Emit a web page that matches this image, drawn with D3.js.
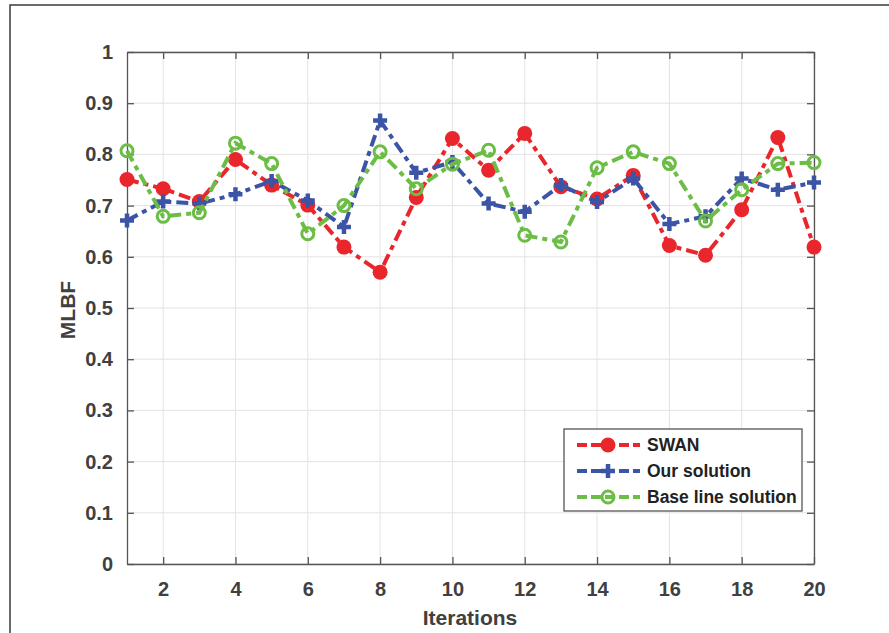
<!DOCTYPE html>
<html>
<head>
<meta charset="utf-8">
<script src="https://cdn.jsdelivr.net/npm/d3@7"></script>
<style>
  body { margin: 0; background: #fff; }
  text { font-family: "Liberation Sans", Arial, sans-serif; font-weight: bold; fill: #404040; }
</style>
</head>
<body>
<svg width="889" height="633"></svg>
<script>
var svg = d3.select("svg"),
    width = +svg.attr("width"),
    height = +svg.attr("height");

// data
var iterations = d3.range(1, 21);
var swan = [0.751, 0.733, 0.708, 0.790, 0.740, 0.701, 0.619, 0.570, 0.716, 0.831,
            0.769, 0.841, 0.737, 0.713, 0.759, 0.622, 0.603, 0.692, 0.833, 0.619];
var ours = [0.671, 0.708, 0.704, 0.722, 0.748, 0.710, 0.658, 0.866, 0.764, 0.785,
            0.704, 0.688, 0.740, 0.707, 0.753, 0.664, 0.679, 0.753, 0.731, 0.745];
var baseline = [0.807, 0.679, 0.686, 0.822, 0.782, 0.645, 0.700, 0.805, 0.733, 0.781,
                0.808, 0.642, 0.629, 0.774, 0.805, 0.782, 0.670, 0.731, 0.782, 0.784];
var xTicks = [2, 4, 6, 8, 10, 12, 14, 16, 18, 20];
var yTicks = d3.range(0, 11).map(d => d / 10);

var series = [
  { name: 'SWAN', values: swan, color: '#e8262b', marker: 'dot' },
  { name: 'Our solution', values: ours, color: '#3b54a5', marker: 'plus' },
  { name: 'Base line solution', values: baseline, color: '#6cbd45', marker: 'ring' }
];

var m = { left: 127, right: 814, top: 52, bottom: 564 };

var x = d3.scaleLinear().domain([1, 20]).range([m.left, m.right]);
var y = d3.scaleLinear().domain([0, 1]).range([m.bottom, m.top]);

// outer frame (top and left edges only)
svg.append("path")
  .attr("d", "M10," + height + "V5H" + width)
  .attr("fill", "none").attr("stroke", "#3a3a3a").attr("stroke-width", 1.5);

// grid
var grid = svg.append("g").attr("stroke", "#e3e3e3").attr("stroke-width", 1);
grid.selectAll(".gx").data(xTicks).enter().append("line")
  .attr("x1", d => x(d)).attr("x2", d => x(d))
  .attr("y1", m.top).attr("y2", m.bottom);
grid.selectAll(".gy").data(yTicks).enter().append("line")
  .attr("x1", m.left).attr("x2", m.right)
  .attr("y1", d => y(d)).attr("y2", d => y(d));

// axes
var axisColor = "#555";
function styleAxis(g) {
  g.selectAll("path.domain").attr("stroke", axisColor).attr("stroke-width", 1.3);
  g.selectAll(".tick line").attr("stroke", axisColor).attr("stroke-width", 1.3);
  g.selectAll(".tick text").attr("fill", "#404040")
    .style("font-size", "20px").style("font-weight", "bold")
    .style("font-family", '"Liberation Sans", Arial, sans-serif');
}

svg.append("g").attr("transform", "translate(0," + m.bottom + ")")
  .call(d3.axisBottom(x).tickValues(xTicks).tickSizeInner(-7).tickSizeOuter(0).tickPadding(18).tickFormat(d3.format("d")))
  .call(styleAxis);
svg.append("g").attr("transform", "translate(0," + m.top + ")")
  .call(d3.axisTop(x).tickValues(xTicks).tickSizeInner(-7).tickSizeOuter(0).tickFormat(""))
  .call(styleAxis);
svg.append("g").attr("transform", "translate(" + m.left + ",0)")
  .call(d3.axisLeft(y).tickValues(yTicks).tickSizeInner(-7).tickSizeOuter(0).tickPadding(14).tickFormat(d => d3.format("")(+d.toFixed(1))))
  .call(styleAxis);
svg.append("g").attr("transform", "translate(" + m.right + ",0)")
  .call(d3.axisRight(y).tickValues(yTicks).tickSizeInner(-7).tickSizeOuter(0).tickFormat(""))
  .call(styleAxis);

// axis labels
svg.append("text").attr("x", 470).attr("y", 625)
  .attr("text-anchor", "middle").style("font-size", "21px").text("Iterations");
svg.append("text").attr("transform", "translate(75,310) rotate(-90)")
  .attr("text-anchor", "middle").style("font-size", "21px").text("MLBF");

// markers
function drawMarker(g, s, cx, cy) {
  if (s.marker == 'dot') {
    g.append("circle").attr("cx", cx).attr("cy", cy).attr("r", 7.5)
      .attr("fill", s.color);
  } else if (s.marker == 'plus') {
    g.append("path").attr("d", "M" + (cx - 7) + "," + cy + "H" + (cx + 7) + "M" + cx + "," + (cy - 7) + "V" + (cy + 7))
      .attr("stroke", s.color).attr("stroke-width", 4.5).attr("fill", "none");
  } else {
    g.append("circle").attr("cx", cx).attr("cy", cy).attr("r", 6)
      .attr("fill", "none").attr("stroke", s.color).attr("stroke-width", 3);
  }
}

var line = d3.line().x((d, i) => x(iterations[i])).y(d => y(d));
var dash = "12,5,5,5";

series.forEach(function(s) {
  var g = svg.append("g");
  g.append("path").datum(s.values)
    .attr("d", line)
    .attr("fill", "none").attr("stroke", s.color)
    .attr("stroke-width", 4).attr("stroke-dasharray", dash);
  s.values.forEach((v, i) => drawMarker(g, s, x(iterations[i]), y(v)));
});

// legend
var lg = svg.append("g");
lg.append("rect").attr("x", 564).attr("y", 429).attr("width", 238).attr("height", 82)
  .attr("fill", "#fff").attr("stroke", "#555").attr("stroke-width", 1.3);
var rows = [445, 471, 497];
series.forEach(function(s, i) {
  var ry = rows[i];
  lg.append("line").attr("x1", 577).attr("x2", 640).attr("y1", ry).attr("y2", ry)
    .attr("stroke", s.color).attr("stroke-width", 4).attr("stroke-dasharray", "10,4");
  drawMarker(lg, s, 608, ry);
  lg.append("text").attr("x", 647).attr("y", ry).attr("dy", "0.35em")
    .style("font-size", "17.5px").style("fill", "#222").text(s.name);
});
</script>
</body>
</html>
